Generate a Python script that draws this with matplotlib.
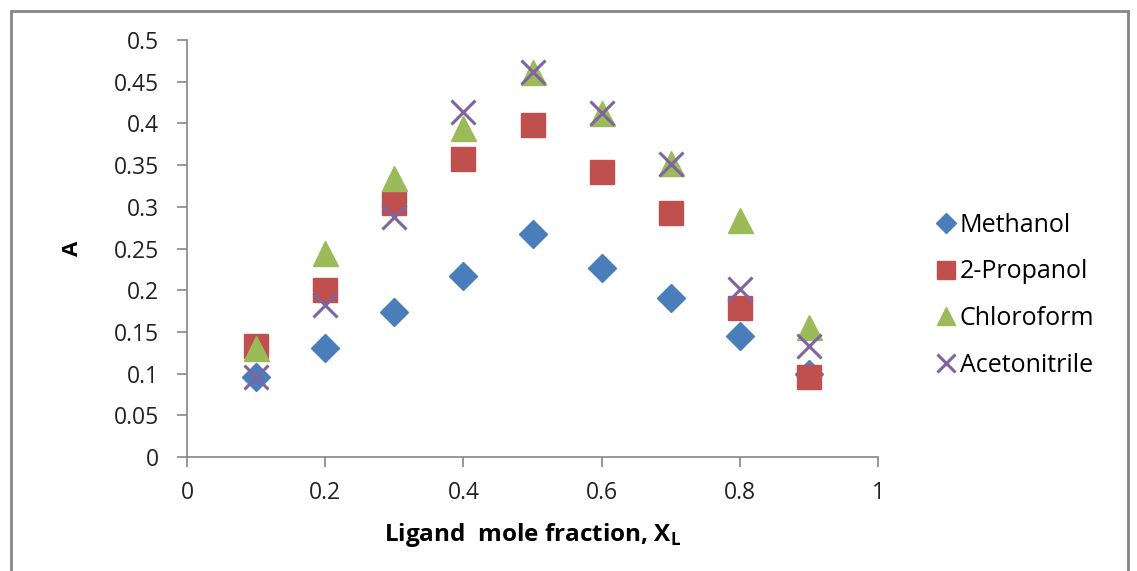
import numpy as np
import matplotlib
matplotlib.use('Agg')
import matplotlib.pyplot as plt
from matplotlib.patches import Rectangle

# ligand mole fraction
x = [0.1, 0.2, 0.3, 0.4, 0.5, 0.6, 0.7, 0.8, 0.9]

methanol = [0.096, 0.131, 0.174, 0.217, 0.267, 0.227, 0.191, 0.145, 0.100]
propanol = [0.133, 0.200, 0.305, 0.357, 0.398, 0.342, 0.292, 0.179, 0.096]
chloroform = [0.131, 0.245, 0.335, 0.394, 0.462, 0.412, 0.352, 0.284, 0.156]
acetonitrile = [0.096, 0.182, 0.288, 0.414, 0.462, 0.412, 0.351, 0.201, 0.133]

labels = ['Methanol', '2-Propanol', 'Chloroform', 'Acetonitrile']

W, H = 1137, 571
fig = plt.figure(figsize=(W / 100, H / 100), dpi=100)
plt.rcParams['font.family'] = ['Open Sans', 'DejaVu Sans']

# plot area in pixels: left 187, right 878, top 40, bottom 457
ax = fig.add_axes([187 / W, 1 - 457 / H, (878 - 187) / W, (457 - 40) / H])

ax.plot(x, methanol, 'D', color='#4A7EBB', ms=14, mec='#4A7EBB', label=labels[0])
ax.plot(x, propanol, 's', color='#C0504D', ms=17, mec='#C0504D', label=labels[1])
ax.plot(x, chloroform, '^', color='#9BBB59', ms=18, mec='#9BBB59', label=labels[2])
ax.plot(x, acetonitrile, 'x', color='#8064A2', ms=17, mew=2.2, label=labels[3])

ax.set_xlim(0, 1)
ax.set_ylim(0, 0.5)
ax.set_xticks(np.arange(0, 1.01, 0.2))
ax.set_xticklabels(['0', '0.2', '0.4', '0.6', '0.8', '1'])
ax.set_yticks(np.arange(0, 0.501, 0.05))
ax.set_yticklabels(['0', '0.05', '0.1', '0.15', '0.2', '0.25', '0.3', '0.35', '0.4', '0.45', '0.5'])

for s in ['top', 'right']:
    ax.spines[s].set_visible(False)
for s in ['left', 'bottom']:
    ax.spines[s].set_color('#868686')
    ax.spines[s].set_linewidth(1.2)
ax.tick_params(axis='both', colors='#868686', labelcolor='#222222', labelsize=16.5,
               length=7, width=1.2, direction='out')
ax.tick_params(axis='x', pad=10)
ax.tick_params(axis='y', pad=13)

ax.set_xlabel('Ligand  mole fraction, X$_\\mathregular{L}$', fontsize=17.5,
              fontweight='bold', labelpad=12)
ax.set_ylabel('A', fontsize=16, fontweight='bold', labelpad=22)

leg = ax.legend(loc='center left', bbox_to_anchor=(1.048, 0.388), frameon=False,
                fontsize=18, handletextpad=0.05, labelspacing=0.87,
                handlelength=1.0, markerscale=0.75)

# outer chart border
fig.patches.append(Rectangle((11 / W, -0.01), (1128 - 11) / W, 1 - 11 / H + 0.01,
                             transform=fig.transFigure, fill=False,
                             edgecolor='#868686', lw=2))

fig.savefig('out.png', dpi=100)
